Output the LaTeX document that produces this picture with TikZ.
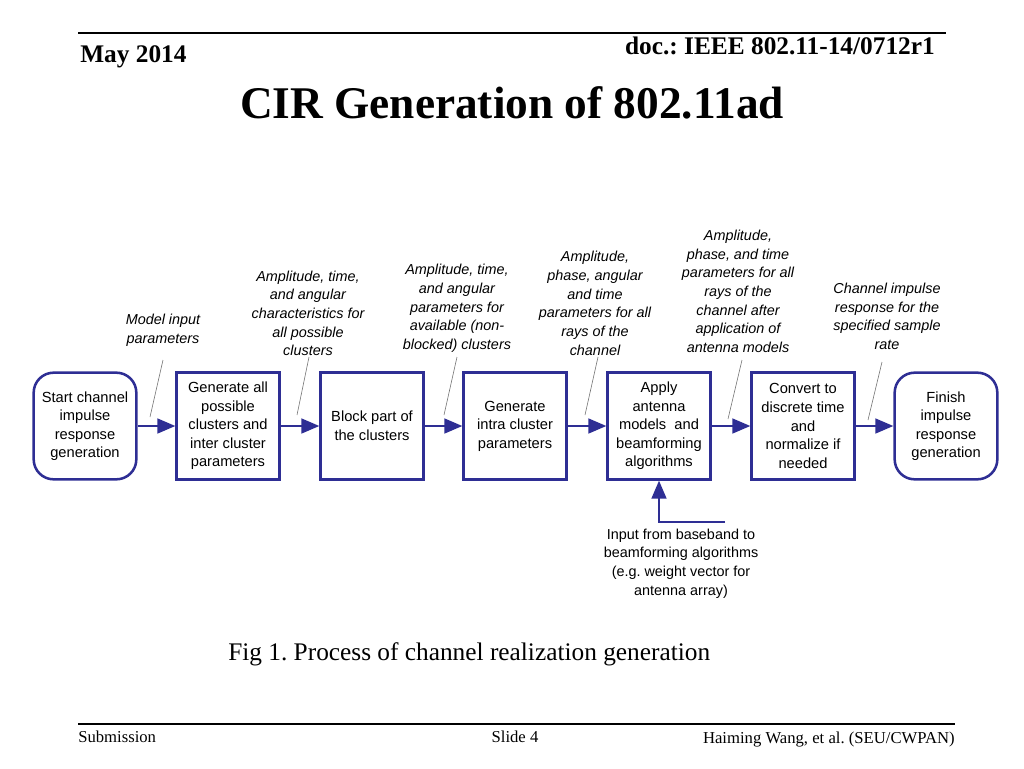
\documentclass[tikz,border=0pt]{standalone}
\usepackage{fontspec}
\setmainfont{Liberation Serif}
\setsansfont{Liberation Sans}
\usetikzlibrary{positioning, arrows.meta}
\definecolor{boxblue}{RGB}{46,46,148}
\frenchspacing
\tikzset{
  cirfig/.style={x=0.75pt, y=-0.75pt},
  procbox/.style={draw=boxblue, line width=1.9pt, minimum width=77pt,
    minimum height=80pt, inner sep=0pt, align=center,
    font=\sffamily\fontsize{11}{13.9}\selectfont},
  termbox/.style={procbox, rounded corners=15pt},
  flow/.style={draw=boxblue, line width=1.9pt,
    -{Triangle[length=13.5pt, width=11pt]}},
  note/.style={align=center, inner sep=0pt,
    font=\sffamily\itshape\fontsize{10.8}{14}\selectfont},
  leader/.style={draw=black!55, line width=0.45pt},
  rule/.style={line width=1.5pt},
  hdr/.style={inner sep=0pt, font=\bfseries\fontsize{19}{22}\selectfont},
  foot/.style={inner sep=0pt, font=\fontsize{12.5}{15}\selectfont},
}
\def\RowY{426}

\begin{document}
\begin{tikzpicture}[cirfig]
  \useasboundingbox (0,0) rectangle (1024,768);

  % ----- slide header -----
  \coordinate (topL) at (78,33);
  \coordinate (topR) at (946,33);
  \draw[rule] (topL) -- (topR);
  \node[hdr, anchor=base west] (date) at (80,62) {May 2014};
  \node[hdr, anchor=base east] (docno) at (935,54) {doc.: IEEE 802.11-14/0712r1};
  \node[inner sep=0pt, font=\bfseries\fontsize{34}{40}\selectfont] (title)
    at (512,103) {CIR Generation of 802.11ad};

  % ----- process row -----
  \node[termbox] (start) at (85,\RowY)
    {Start channel\\impulse\\response\\generation};
  \node[procbox] (genall) at (228,\RowY)
    {Generate all\\possible\\clusters and\\inter cluster\\parameters};
  \node[procbox] (block) at (372,\RowY) {Block part of\\the clusters};
  \node[procbox] (intra) at (515,\RowY)
    {Generate\\intra cluster\\parameters};
  \node[procbox] (apply) at (659,\RowY)
    {Apply\\antenna\\models~ and\\beamforming\\algorithms};
  \node[procbox] (conv) at (803,\RowY)
    {Convert to\\discrete time\\and\\normalize if\\needed};
  \node[termbox] (finish) at (946,\RowY)
    {Finish\\impulse\\response\\generation};

  \draw[flow] (start) -- (genall);
  \draw[flow] (genall) -- (block);
  \draw[flow] (block) -- (intra);
  \draw[flow] (intra) -- (apply);
  \draw[flow] (apply) -- (conv);
  \draw[flow] (conv) -- (finish);

  % ----- beamforming input -----
  \coordinate (bbin) at (725,522);
  \draw[flow] (bbin) -| (apply.south);
  \node[align=center, inner sep=0pt,
    font=\sffamily\fontsize{10.8}{14}\selectfont] (bbtext) at (681,563.5)
    {Input from baseband to\\beamforming algorithms\\(e.g. weight vector for\\antenna array)};

  % ----- italic notes above the arrows -----
  \node[note] (n1) at (163,330.5) {Model input\\parameters};
  \node[note] (n2) at (308,313.5)
    {Amplitude, time,\\and angular\\characteristics for\\all possible\\clusters};
  \node[note] (n3) at (457,308.5)
    {Amplitude, time,\\and angular\\parameters for\\available (non-\\blocked) clusters};
  \node[note] (n4) at (595,303.5)
    {Amplitude,\\phase, angular\\and time\\parameters for all\\rays of the\\channel};
  \node[note] (n5) at (738,291.5)
    {Amplitude,\\phase, and time\\parameters for all\\rays of the\\channel after\\application of\\antenna models};
  \node[note] (n6) at (887,316.5)
    {Channel impulse\\response for the\\specified sample\\rate};

  % leader ends
  \coordinate (l1a) at (163,360);  \coordinate (l1b) at (150,417);
  \coordinate (l2a) at (309,357);  \coordinate (l2b) at (297,415);
  \coordinate (l3a) at (457,357);  \coordinate (l3b) at (444,415);
  \coordinate (l4a) at (598,357);  \coordinate (l4b) at (585,415);
  \coordinate (l5a) at (742,360);  \coordinate (l5b) at (728,419);
  \coordinate (l6a) at (882,362);  \coordinate (l6b) at (868,420);
  \draw[leader] (l1a) -- (l1b);
  \draw[leader] (l2a) -- (l2b);
  \draw[leader] (l3a) -- (l3b);
  \draw[leader] (l4a) -- (l4b);
  \draw[leader] (l5a) -- (l5b);
  \draw[leader] (l6a) -- (l6b);

  % ----- caption -----
  \node[inner sep=0pt, anchor=west, font=\fontsize{19}{22}\selectfont]
    (cap) at (228,654) {Fig 1. Process of channel realization generation};

  % ----- slide footer -----
  \coordinate (botL) at (78,724);
  \coordinate (botR) at (955,724);
  \draw[line width=1pt] (botL) -- (botR);
  \node[foot, anchor=west] (subm) at (78,737) {Submission};
  \node[foot] (slide) at (515,737) {Slide 4};
  \node[foot, anchor=east] (auth) at (955,740)
    {Haiming Wang, et al. (SEU/CWPAN)};
\end{tikzpicture}
\end{document}
